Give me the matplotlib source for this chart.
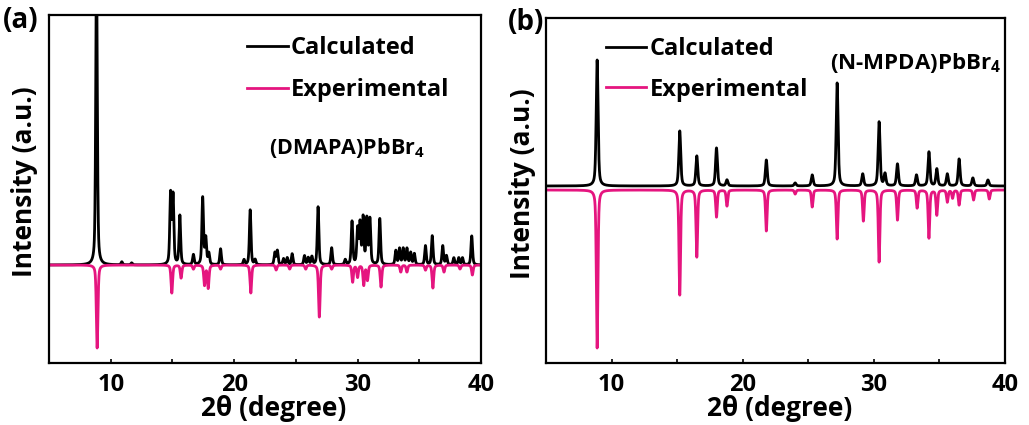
import numpy as np
import matplotlib.pyplot as plt
from matplotlib.ticker import MultipleLocator

plt.rcParams['font.family'] = ['Open Sans', 'DejaVu Sans']
plt.rcParams['font.weight'] = 'bold'
plt.rcParams['mathtext.fontset'] = 'custom'
plt.rcParams['mathtext.bf'] = 'Open Sans:bold'
plt.rcParams['mathtext.rm'] = 'Open Sans:bold'

BLACK = '#000000'
PINK = '#e5157f'

xticks = [10, 20, 30, 40]
xtick_labels = ['10', '20', '30', '40']

# (a) (DMAPA)PbBr4 -- peak positions (2theta) and heights
a_calc_pos = [8.85, 10.9, 11.7, 14.85, 15.05, 15.6, 16.7, 17.45, 17.7, 17.95, 18.9,
              20.8, 21.3, 21.7, 23.3, 23.5, 24.0, 24.3, 24.7, 25.7, 26.0, 26.3,
              26.8, 27.9, 29.0, 29.55, 30.0, 30.2, 30.45, 30.75, 31.0, 31.8,
              33.1, 33.4, 33.7, 34.0, 34.3, 34.6, 35.5, 36.05, 36.9, 37.2,
              37.8, 38.2, 38.5, 39.25]
a_calc_int = [300, 3, 2, 70, 68, 49, 10, 67, 26, 11, 16,
              5, 55, 5, 12, 14, 6, 7, 11, 9, 7, 8,
              58, 17, 5, 43, 35, 40, 46, 45, 45, 46,
              14, 16, 16, 16, 12, 11, 19, 29, 19, 9,
              7, 7, 7, 29]
a_exp_pos = [8.9, 14.95, 15.7, 16.7, 17.6, 17.9, 18.9, 21.35, 23.4, 24.5, 25.8,
             26.9, 27.9, 29.6, 30.0, 30.5, 30.8, 31.9, 33.5, 34.0, 35.5, 36.1,
             37.0, 38.3, 39.3]
a_exp_int = [83, 28, 13, 4, 20, 23, 4, 28, 5, 4, 4,
             52, 4, 17, 12, 20, 15, 22, 7, 7, 5, 23,
             7, 4, 10]

# (b) (N-MPDA)PbBr4
b_calc_pos = [8.9, 15.2, 16.5, 18.0, 18.8, 21.8, 24.0, 25.3, 27.2, 29.15, 30.4,
              30.85, 31.8, 33.25, 34.2, 34.8, 35.6, 36.5, 37.55, 38.7]
b_calc_int = [126, 55, 30, 38, 6, 26, 3, 11, 103, 12, 64,
              12, 22, 11, 34, 17, 12, 27, 8, 6]
b_exp_pos = [8.9, 15.2, 16.5, 18.0, 18.8, 21.8, 24.0, 25.3, 27.2, 29.2, 30.4,
             31.8, 33.3, 34.2, 34.8, 35.6, 36.0, 36.5, 37.6, 38.8]
b_exp_int = [158, 105, 67, 27, 16, 41, 4, 17, 49, 31, 72,
             30, 18, 48, 25, 12, 8, 15, 10, 9]


def pattern(x, pos, inten, fwhm):
    # pseudo-Voigt profile summed over the listed reflections
    y = np.zeros_like(x)
    g = fwhm / 2.3548
    for p, h in zip(pos, inten):
        lor = 1.0 / (1.0 + ((x - p) / (fwhm / 2)) ** 2)
        gau = np.exp(-0.5 * ((x - p) / g) ** 2)
        y += h * (0.5 * lor + 0.5 * gau)
    return y


x = np.linspace(5, 40, 7001)

fig = plt.figure(figsize=(10.29, 4.25), dpi=100)
W, H = 1029, 425
ax1 = fig.add_axes([49 / W, 1 - 363 / H, (481 - 49) / W, (363 - 15) / H])
ax2 = fig.add_axes([546 / W, 1 - 363 / H, (1005 - 546) / W, (363 - 18) / H])

ax1.plot(x, pattern(x, a_calc_pos, a_calc_int, 0.15), color=BLACK, lw=2, label='Calculated')
ax1.plot(x, -pattern(x, a_exp_pos, a_exp_int, 0.15), color=PINK, lw=2, label='Experimental')
ax1.set_ylim(-98, 250)

ax2.plot(x, 4 + pattern(x, b_calc_pos, b_calc_int, 0.17), color=BLACK, lw=2, label='Calculated')
ax2.plot(x, -pattern(x, b_exp_pos, b_exp_int, 0.14), color=PINK, lw=2, label='Experimental')
ax2.set_ylim(-173, 172)

for ax in (ax1, ax2):
    ax.set_xlim(5, 40)
    ax.set_xticks(xticks, labels=xtick_labels, fontsize=17, fontweight='bold')
    ax.xaxis.set_minor_locator(MultipleLocator(5))
    ax.tick_params(axis='x', which='both', direction='in', length=3, width=1.2, pad=7)
    ax.tick_params(axis='y', left=False, labelleft=False)
    for s in ax.spines.values():
        s.set_linewidth(1.6)
    ax.set_xlabel('2θ (degree)', fontsize=19, fontweight='bold', va='center')
    ax.set_ylabel('Intensity (a.u.)', fontsize=19, fontweight='bold', va='center')

ax1.xaxis.set_label_coords(0.52, -45 / 348)
ax2.xaxis.set_label_coords(0.51, -45 / 345)
ax1.yaxis.set_label_coords(-24 / 432, 0.52)
ax2.yaxis.set_label_coords(-23 / 459, 0.52)

ax1.legend(loc='upper left', bbox_to_anchor=(0.41, 1.0), frameon=False, fontsize=17,
           handlelength=1.7, handletextpad=0.15, labelspacing=0.76)
ax2.legend(loc='upper left', bbox_to_anchor=(0.085, 1.006), frameon=False, fontsize=17,
           handlelength=1.7, handletextpad=0.15, labelspacing=0.7)

ax1.text(0.69, 0.618, r'(DMAPA)PbBr$_\mathbf{4}$', transform=ax1.transAxes,
         ha='center', va='center', fontsize=15.5, fontweight='bold')
ax2.text(0.806, 0.87, r'(N-MPDA)PbBr$_\mathbf{4}$', transform=ax2.transAxes,
         ha='center', va='center', fontsize=16, fontweight='bold')

fig.text(3 / W, 1 - 20 / H, '(a)', fontsize=20, fontweight='bold', va='center', ha='left')
fig.text(508 / W, 1 - 22 / H, '(b)', fontsize=20, fontweight='bold', va='center', ha='left')

fig.savefig('out.png', dpi=100)
